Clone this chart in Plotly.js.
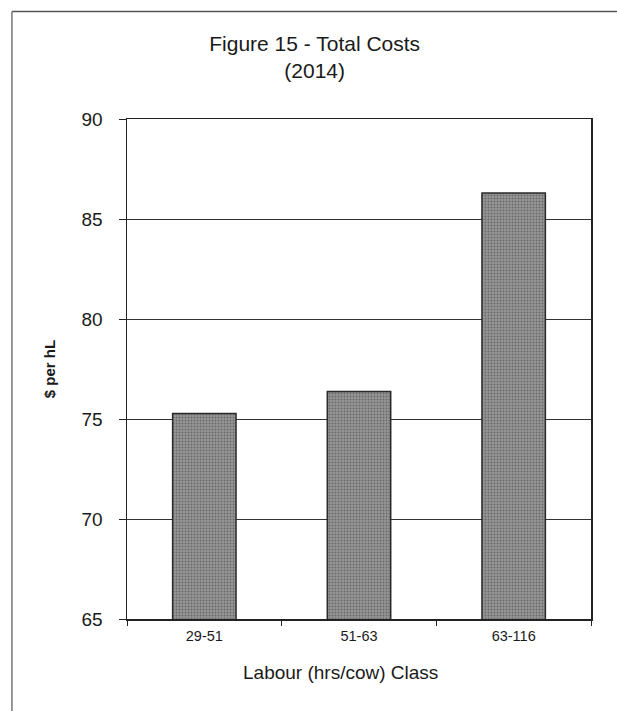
<!DOCTYPE html>
<html>
<head>
<meta charset="utf-8">
<script src="https://cdn.plot.ly/plotly-3.0.1.min.js"></script>
<style>
html,body{margin:0;padding:0;background:#fff;}
#chart{width:617px;height:711px;}
</style>
</head>
<body>
<div id="chart"></div>
<script>
const categories = ["29-51", "51-63", "63-116"];
const totalCosts = [75.28, 76.37, 86.3];
const yTicks = [65, 70, 75, 80, 85, 90];
const xTitle = "Labour (hrs/cow) Class";

const trace = {
  type: "bar",
  x: categories,
  y: totalCosts,
  marker: {
    color: "#868686",
    line: {color: "#2a2a2a", width: 1.5},
    pattern: {shape: ".", fgcolor: "#6a6a6a", bgcolor: "#979797", size: 3, solidity: 0.35}
  },
  hoverinfo: "x+y"
};

const layout = {
  width: 617,
  height: 711,
  paper_bgcolor: "#ffffff",
  plot_bgcolor: "#ffffff",
  margin: {l: 127, r: 26, t: 119, b: 92},
  showlegend: false,
  bargap: 0.59,
  font: {family: "Liberation Sans, Arial, sans-serif", color: "#1a1a1a"},
  title: {
    text: "Figure 15 - Total Costs<br>(2014)",
    font: {size: 21, family: "Liberation Sans, Arial, sans-serif", color: "#1a1a1a"},
    x: 0.51, xanchor: "center", xref: "container",
    y: 0.928, yanchor: "middle", yref: "container"
  },
  xaxis: {
    type: "category",
    tickson: "boundaries",
    ticks: "outside",
    ticklen: 5,
    tickcolor: "#222",
    tickfont: {size: 14.5},
    ticklabelstandoff: 3,
    showline: true, linecolor: "#222", linewidth: 1.5, mirror: true,
    showgrid: false,
    fixedrange: true
  },
  yaxis: {
    range: [65, 90],
    tickvals: yTicks,
    ticktext: yTicks.map(String),
    ticks: "outside",
    ticklen: 7,
    tickcolor: "#222",
    tickfont: {size: 19},
    ticklabelstandoff: 12,
    showline: true, linecolor: "#222", linewidth: 1.5, mirror: true,
    showgrid: true, gridcolor: "#333", gridwidth: 1,
    zeroline: false,
    fixedrange: true,
    title: {text: "<b>$ per hL</b>", font: {size: 15}, standoff: 22}
  },
  annotations: [
    {text: xTitle, xref: "paper", yref: "paper", x: 0.461, y: -0.106,
     xanchor: "center", yanchor: "middle", showarrow: false,
     font: {size: 19, family: "Liberation Sans, Arial, sans-serif", color: "#1a1a1a"}}
  ],
  shapes: [
    {type: "line", xref: "paper", yref: "paper", x0: -0.248, x1: 1.06, y0: 1.215, y1: 1.215, line: {color: "#555", width: 1.5}},
    {type: "line", xref: "paper", yref: "paper", x0: -0.248, x1: -0.248, y0: 1.215, y1: -0.19, line: {color: "#777", width: 1.5}}
  ]
};

Plotly.newPlot("chart", [trace], layout, {displayModeBar: false, staticPlot: true});
</script>
</body>
</html>
